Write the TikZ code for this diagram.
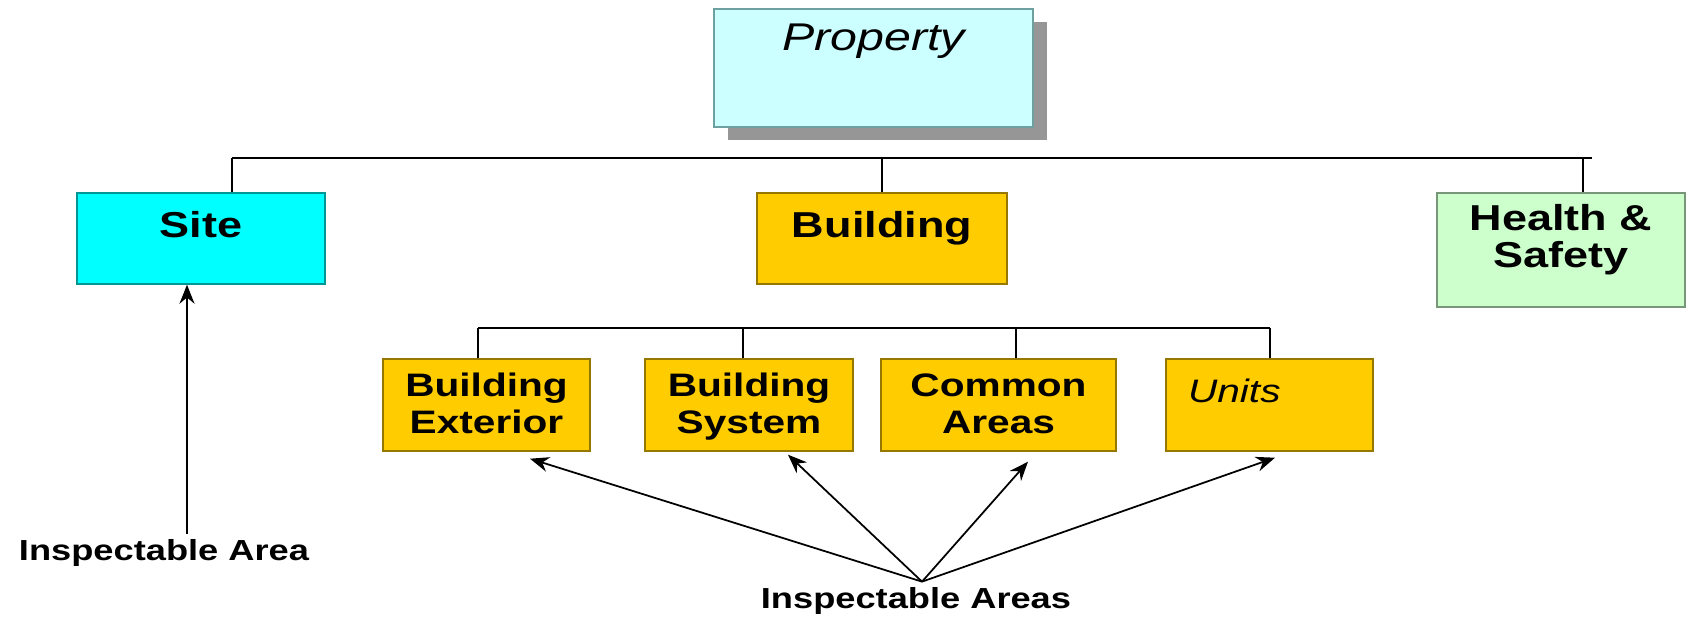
\documentclass[tikz,border=0pt]{standalone}
\usepackage{fontspec}
\setmainfont{Liberation Sans}[FakeStretch=1.25]
\usetikzlibrary{arrows.meta,shadows}
\definecolor{propfill}{RGB}{204,255,255}
\definecolor{propdraw}{RGB}{110,160,160}
\definecolor{sitefill}{RGB}{0,255,255}
\definecolor{sitedraw}{RGB}{0,150,150}
\definecolor{bldfill}{RGB}{255,204,0}
\definecolor{blddraw}{RGB}{150,120,0}
\definecolor{hsfill}{RGB}{204,255,204}
\definecolor{hsdraw}{RGB}{120,150,120}
\definecolor{shadowgray}{RGB}{150,150,150}

\begin{document}
\begin{tikzpicture}[x=0.02cm, y=-0.02cm, >={Stealth[length=0.38cm,width=0.3cm]},
  box/.style={draw, line width=0.8pt, inner sep=0pt, anchor=base},
  mainbox/.style={box, font=\fontsize{20.5}{21}\selectfont\bfseries, minimum width=4.96cm, align=center},
  subbox/.style={box, fill=bldfill, draw=blddraw, font=\fontsize{18.5}{20.5}\selectfont\bfseries, align=center},
  wire/.style={line width=1.1pt},
  tag/.style={font=\fontsize{16.5}{20}\selectfont\bfseries, inner sep=0.1cm, anchor=base}]
  \useasboundingbox (0,0) rectangle (1696,616);

  \node (P) [box, fill=propfill, draw=propdraw, minimum width=6.38cm, text height=0.82cm, text depth=1.54cm,
    font=\fontsize{22}{24}\selectfont\itshape,
    drop shadow={shadow xshift=0.28cm, shadow yshift=-0.26cm, fill=shadowgray, opacity=1}] at (873.5,50) {Property};

  \node (S) [mainbox, fill=sitefill, draw=sitedraw, text height=0.88cm, text depth=0.94cm] at (201,237) {Site};
  \node (B) [mainbox, fill=bldfill, draw=blddraw, minimum width=5cm, text height=0.88cm, text depth=0.94cm] at (882,237) {Building};
  \node (H) [mainbox, fill=hsfill, draw=hsdraw, text height=1.48cm, text depth=0.8cm] at (1561,267) {Health \&\\Safety};

  \node (BE) [subbox, minimum width=4.14cm, text height=1.48cm, text depth=0.36cm] at (486.5,433) {Building\\Exterior};
  \node (BS) [subbox, minimum width=4.16cm, text height=1.48cm, text depth=0.36cm] at (749,433) {Building\\System};
  \node (CA) [subbox, minimum width=4.7cm, text height=1.48cm, text depth=0.36cm] at (998.5,433) {Common\\Areas};
  \node (U) [subbox, align=left, text width=3.26cm, inner xsep=0.44cm, text height=0.86cm, text depth=0.98cm,
    font=\fontsize{18.5}{20.5}\selectfont\itshape] at (1269.5,402) {Units};

  \node (IA) [tag] at (164,560) {Inspectable Area};
  \node (IAs) [tag] at (916,608) {Inspectable Areas};

  % top level
  \coordinate (T1) at (232,158);
  \coordinate (T2) at (1592,158);
  \coordinate (T3) at (1583,158);
  \draw[wire] (T1) -- (T2);
  \draw[wire] (T1) -- (T1 |- S.north);
  \draw[wire] (B.north) -- (B.north |- T1);
  \draw[wire] (T3) -- (T3 |- H.north);

  % building parts
  \coordinate (L1) at (478,328);
  \coordinate (L2) at (1270,328);
  \draw[wire] (L1) -- (L2);
  \draw[wire] (L1) -- (L1 |- BE.north);
  \draw[wire] (743,328) -- (BS.north -| 743,328);
  \draw[wire] (1016,328) -- (CA.north -| 1016,328);
  \draw[wire] (L2) -- (L2 |- U.north);

  % inspectable areas
  \coordinate (F) at ([xshift=0.12cm]IAs.north);
  \draw[->, line width=1pt] ([xshift=0.46cm]IA.north) -- ([xshift=0.46cm]IA.north |- S.south);
  \draw[->, line width=1pt] (F) -- ([xshift=0.87cm, yshift=-0.14cm]BE.south);
  \draw[->, line width=1pt] (F) -- ([xshift=0.78cm, yshift=-0.06cm]BS.south);
  \draw[->, line width=1pt] (F) -- ([xshift=0.59cm, yshift=-0.2cm]CA.south);
  \draw[->, line width=1pt] (F) -- ([xshift=0.11cm, yshift=-0.12cm]U.south);
\end{tikzpicture}
\end{document}
